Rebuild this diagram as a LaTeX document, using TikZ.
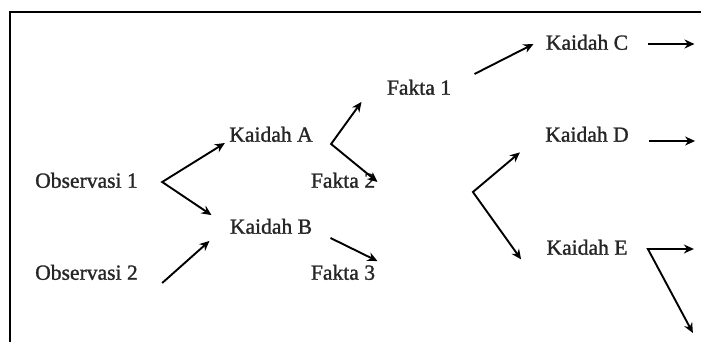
\documentclass[tikz,border=0pt]{standalone}
\usepackage{fontspec}
\setmainfont{Liberation Serif}
\newfontfamily\termfont{Liberation Serif}[FakeBold=1.2]
\usetikzlibrary{arrows.meta}
\tikzstyle{term} = [rectangle, inner sep=2pt, minimum height=12.5pt, text height=1.5ex, text depth=.25ex, text centered, text=black!85, font=\termfont\fontsize{10.8}{13}\selectfont]
\tikzstyle{arrow} = [line width=0.95pt,->,>={Stealth[length=5pt,width=4.5pt]}]
\tikzstyle{fork} = [line width=0.95pt,<->,>={Stealth[length=5pt,width=4.5pt]}]

\begin{document}
\begin{tikzpicture}[node distance=46pt, x=0.5pt, y=-0.5pt]
           \useasboundingbox (0,0) rectangle (701,342);
           \draw [line width=1pt] (10,342) |- (701,12);

           \node (obs1) [term] at (86.5,182) {Observasi 1};
           \node (obs2) [term, below of=obs1] {Observasi 2};
           \node (kaidahA) [term, right of=obs1, xshift=46.25pt, yshift=23pt] {Kaidah A};
           \node (kaidahB) [term, below of=kaidahA] {Kaidah B};
           \node (fakta1) [term, right of=kaidahA, xshift=28pt, yshift=23.5pt] {Fakta 1};
           \node (fakta2) [term, right of=kaidahB, xshift=-10pt, yshift=23pt] {Fakta 2};
           \node (fakta3) [term, right of=kaidahB, xshift=-10pt, yshift=-23pt] {Fakta 3};
           \node (kaidahD) [term, right of=kaidahA, xshift=112pt] {Kaidah D};
           \node (kaidahC) [term, above of=kaidahD] {Kaidah C};
           \node (kaidahE) [term, below of=kaidahD, yshift=-10.5pt] {Kaidah E};

           \coordinate (forkObs) at ([xshift=10pt]obs1.east);
           \coordinate (forkA) at ([xshift=7pt, yshift=-4pt]kaidahA.east);
           \coordinate (forkDE) at ([xshift=-34pt, yshift=-28pt]kaidahD.west);
           \coordinate (forkE) at ([xshift=8pt]kaidahE.east);

           \draw [fork] ([yshift=-3.5pt]kaidahA.west) -- (forkObs) -- ([xshift=-7pt]kaidahB.north west);
           \draw [arrow] ([xshift=10pt, yshift=-4.5pt]obs2.east) -- ([xshift=-8pt]kaidahB.south west);
           \draw [fork] ([xshift=-10.5pt]fakta1.south west) -- (forkA) -- ([xshift=-1pt]fakta2.east);
           \draw [arrow] ([xshift=7pt, yshift=-5pt]kaidahB.east) -- ([xshift=-1pt]fakta3.north east);
           \draw [arrow] ([xshift=9.5pt, yshift=7.5pt]fakta1.east) -- ([xshift=-4pt]kaidahC.west);
           \draw [fork] ([xshift=-10.5pt, yshift=-1.75pt]kaidahD.south west) -- (forkDE) -- ([xshift=-10.5pt, yshift=1.25pt]kaidahE.south west);
           \draw [arrow] ([xshift=8pt]kaidahC.east) -- ([xshift=31pt]kaidahC.east);
           \draw [arrow] ([xshift=8pt, yshift=-2.5pt]kaidahD.east) -- ([xshift=31pt, yshift=-2.5pt]kaidahD.east);
           \draw [fork] ([xshift=30.5pt, yshift=-42pt]kaidahE.east) -- (forkE) -- ([xshift=31pt]kaidahE.east);
        \end{tikzpicture}
\end{document}
